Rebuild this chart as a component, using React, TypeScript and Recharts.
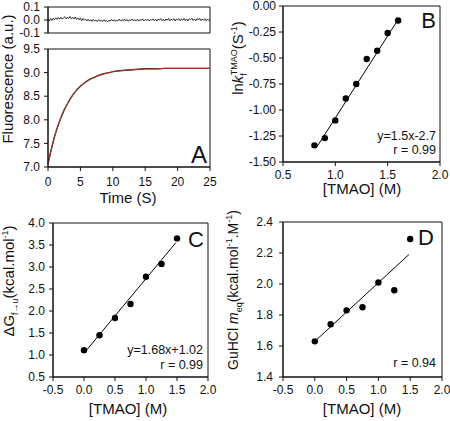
import { ComposedChart, LineChart, Line, Scatter, XAxis, YAxis, Label, ReferenceArea, Customized } from "recharts";

const W = 450;
const H = 421;
const font = "'Liberation Sans', Arial, sans-serif";
const ink = "#111";

// A: refolding trace, fit and residuals
const timeS = [0, 0.5, 1, 1.5, 2, 2.5, 3, 3.5, 4, 4.5, 5, 5.5, 6, 6.5, 7, 7.5, 8, 8.5, 9, 9.5, 10, 11, 12, 13, 14, 15, 16, 17, 18, 19, 20, 21, 22, 23, 24, 25];
const fluorescence = [7.07, 7.37, 7.64, 7.86, 8.05, 8.21, 8.34, 8.46, 8.56, 8.64, 8.71, 8.77, 8.82, 8.86, 8.89, 8.92, 8.95, 8.97, 8.99, 9.0, 9.02, 9.04, 9.05, 9.06, 9.07, 9.08, 9.08, 9.08, 9.09, 9.09, 9.09, 9.09, 9.09, 9.09, 9.09, 9.09];
const residuals = [
  0.006, -0.009, 0.011, -0.005, 0.014, 0.002, 0.017, 0.004, 0.019, 0.007,
  0.021, 0.006, 0.018, 0.025, 0.008, 0.022, 0.011, 0.027, 0.009, 0.02,
  0.007, 0.023, 0.004, 0.016, 0.001, 0.014, -0.005, 0.011, -0.002, 0.008,
  -0.007, 0.006, -0.009, 0.003, -0.011, 0.004, -0.008, 0.0, -0.012, 0.003,
  -0.009, -0.002, -0.013, 0.002, -0.01, -0.004, -0.014, -0.001, -0.009, 0.004,
  -0.008, 0.003, -0.011, 0.0, -0.007, 0.006, -0.009, 0.002, -0.006, 0.007,
  -0.007, 0.004, -0.01, 0.003, -0.004, 0.008, -0.008, 0.002, -0.006, 0.006,
  -0.009, 0.003, -0.003, 0.009, -0.007, 0.004, -0.004, 0.008, -0.008, 0.003,
  -0.002, 0.009, -0.006, 0.006, -0.009, 0.007, 0.0, 0.011, -0.005, 0.006,
  -0.008, 0.008, -0.002, 0.012, -0.006, 0.007, -0.003, 0.01, -0.007, 0.008,
  0.0, 0.011, -0.006, 0.007, -0.001, 0.013, -0.005, 0.008, -0.007, 0.01,
  0.001, 0.012, -0.004, 0.008, -0.006, 0.011, 0.0, 0.013, -0.005, 0.007,
  -0.001, 0.01, -0.006, 0.008, -0.003, 0.006,
];

// B: ln kf vs [TMAO]
const tmaoB = [0.8, 0.9, 1.0, 1.1, 1.2, 1.3, 1.4, 1.5, 1.6];
const lnKf = [-1.34, -1.27, -1.1, -0.89, -0.75, -0.51, -0.43, -0.26, -0.14];
const fitBx = [0.82, 1.6];
const fitBy = [-1.36, -0.13];

// C: dG vs [TMAO]
const tmaoC = [0, 0.25, 0.5, 0.75, 1.0, 1.25, 1.5];
const deltaG = [1.11, 1.45, 1.84, 2.16, 2.78, 3.07, 3.65];
const fitCx = [0, 1.48];
const fitCy = [1.04, 3.55];

// D: GuHCl m-value vs [TMAO]
const tmaoD = [0, 0.25, 0.5, 0.75, 1.0, 1.25, 1.5];
const mEq = [1.63, 1.74, 1.83, 1.85, 2.01, 1.96, 2.29];
const fitDx = [0, 1.48];
const fitDy = [1.63, 2.19];

const ticksTime = [0, 5, 10, 15, 20, 25];
const ticksFluor = [7.0, 7.5, 8.0, 8.5, 9.0, 9.5];
const ticksResid = [-0.1, 0.0, 0.1];
const ticksTmaoB = [0.5, 1.0, 1.5, 2.0];
const ticksLnKf = [-1.5, -1.25, -1.0, -0.75, -0.5, -0.25, 0];
const ticksTmaoCD = [-0.5, 0, 0.5, 1.0, 1.5, 2.0];
const ticksDG = [0.5, 1.0, 1.5, 2.0, 2.5, 3.0, 3.5, 4.0];
const ticksMeq = [1.4, 1.6, 1.8, 2.0, 2.2, 2.4];

type Box = { x0: number; y0: number; x1: number; y1: number };
const YW = 40;
const XH = 30;

const boxResid: Box = { x0: 48, y0: 7, x1: 210, y1: 33 };
const boxA: Box = { x0: 48, y0: 49, x1: 210, y1: 167 };
const boxB: Box = { x0: 283, y0: 6, x1: 440, y1: 162 };
const boxC: Box = { x0: 53, y0: 223, x1: 208, y1: 377 };
const boxD: Box = { x0: 283, y0: 222, x1: 442, y1: 377 };

function margin(b: Box, xh = XH) {
  return { top: b.y0, left: b.x0 - YW, right: W - b.x1, bottom: H - b.y1 - xh };
}

const tickStyle = { fontFamily: font, fontSize: 12, fill: ink };
const f1 = (v: number) => v.toFixed(1);
const f2 = (v: number) => v.toFixed(2);
const pts = (xs: number[], ys: number[]) => xs.map((x, i) => ({ x, y: ys[i] }));

function Dot(p: any) {
  return <circle cx={p.cx} cy={p.cy} r={3.2} fill="#000" />;
}

function VTitle({ cx, cy, size = 15, children }: { cx: number; cy: number; size?: number; children: any }) {
  return (
    <text x={cx} y={cy} transform={`rotate(-90 ${cx} ${cy})`} textAnchor="middle" fontFamily={font} fontSize={size} fill={ink}>
      {children}
    </text>
  );
}

function HTitle({ cx, y, children }: { cx: number; y: number; children: any }) {
  return (
    <text x={cx} y={y} textAnchor="middle" fontFamily={font} fontSize={15} fill={ink}>
      {children}
    </text>
  );
}

function Note({ x, y, size = 12.5, children }: { x: number; y: number; size?: number; children: any }) {
  return (
    <text x={x} y={y} textAnchor="end" fontFamily={font} fontSize={size} fill={ink}>
      {children}
    </text>
  );
}

const layer = { position: "absolute" as const, left: 0, top: 0 };
const axisProps = { stroke: ink, tick: tickStyle, tickSize: 4, interval: 0 as const };

export default function App() {
  const resid = residuals.map((r, i) => ({ i, r }));
  const trace = timeS.map((t, i) => ({ t, f: fluorescence[i] }));

  return (
    <div style={{ position: "absolute", left: 0, top: 0, width: W, height: H, background: "#fff" }}>
      {/* A, residuals */}
      <div style={layer}>
        <LineChart width={W} height={H} data={resid} margin={margin(boxResid, 0)}>
          <XAxis dataKey="i" type="category" scale="point" hide />
          <YAxis width={YW} type="number" domain={[-0.1, 0.1]} ticks={ticksResid} tickFormatter={f1} tickMargin={4} {...axisProps} />
          <ReferenceArea x1={0} x2={residuals.length - 1} y1={-0.1} y2={0.1} fill="none" stroke={ink} ifOverflow="visible" />
          <Line dataKey="r" stroke="#000" strokeWidth={0.8} dot={false} isAnimationActive={false} />
        </LineChart>
      </div>

      {/* A, trace */}
      <div style={layer}>
        <LineChart width={W} height={H} data={trace} margin={margin(boxA)}>
          <XAxis dataKey="t" type="number" domain={[0, 25]} ticks={ticksTime} tickMargin={6} {...axisProps}>
            <Label content={() => <HTitle cx={128} y={203}>Time (S)</HTitle>} />
          </XAxis>
          <YAxis width={YW} type="number" domain={[7, 9.5]} ticks={ticksFluor} tickFormatter={f1} tickMargin={4} {...axisProps}>
            <Label content={() => <VTitle cx={13} cy={79}>Fluorescence (a.u.)</VTitle>} />
          </YAxis>
          <ReferenceArea x1={0} x2={25} y1={7} y2={9.5} fill="none" stroke={ink} ifOverflow="visible" />
          <Line dataKey="f" stroke="#222" strokeWidth={1.4} dot={false} isAnimationActive={false} />
          <Line dataKey="f" stroke="#c0392b" strokeWidth={0.9} dot={false} isAnimationActive={false} />
          <Customized component={() => <Note x={207} y={163} size={24}>A</Note>} />
        </LineChart>
      </div>

      {/* B */}
      <div style={layer}>
        <ComposedChart width={W} height={H} margin={margin(boxB)}>
          <XAxis dataKey="x" type="number" domain={[0.5, 2]} ticks={ticksTmaoB} tickFormatter={f1} tickMargin={4} {...axisProps}>
            <Label content={() => <HTitle cx={362} y={194}>[TMAO] (M)</HTitle>} />
          </XAxis>
          <YAxis width={YW} dataKey="y" type="number" domain={[-1.5, 0]} ticks={ticksLnKf} tickFormatter={f2} tickMargin={3} {...axisProps}>
            <Label
              content={() => (
                <VTitle cx={243} cy={58}>
                  <tspan>ln</tspan>
                  <tspan fontStyle="italic">k</tspan>
                  <tspan fontSize={9} dy={4}>f</tspan>
                  <tspan fontSize={9} dy={-10} dx={-2}>TMAO</tspan>
                  <tspan dy={6}>(S</tspan>
                  <tspan fontSize={9} dy={-6}>-1</tspan>
                  <tspan dy={6}>)</tspan>
                </VTitle>
              )}
            />
          </YAxis>
          <ReferenceArea x1={0.5} x2={2} y1={-1.5} y2={0} fill="none" stroke={ink} ifOverflow="visible" />
          <Line data={pts(fitBx, fitBy)} dataKey="y" type="linear" stroke="#000" strokeWidth={1} dot={false} isAnimationActive={false} />
          <Scatter data={pts(tmaoB, lnKf)} dataKey="y" shape={Dot} isAnimationActive={false} />
          <Customized
            component={() => (
              <g>
                <Note x={436} y={28} size={22}>B</Note>
                <Note x={436} y={140}>y=1.5x-2.7</Note>
                <Note x={436} y={154}>r = 0.99</Note>
              </g>
            )}
          />
        </ComposedChart>
      </div>

      {/* C */}
      <div style={layer}>
        <ComposedChart width={W} height={H} margin={margin(boxC)}>
          <XAxis dataKey="x" type="number" domain={[-0.5, 2]} ticks={ticksTmaoCD} tickFormatter={f1} tickMargin={4} {...axisProps}>
            <Label content={() => <HTitle cx={128} y={414}>[TMAO] (M)</HTitle>} />
          </XAxis>
          <YAxis width={YW} dataKey="y" type="number" domain={[0.5, 4]} ticks={ticksDG} tickFormatter={f1} tickMargin={4} {...axisProps}>
            <Label
              content={() => (
                <VTitle cx={14} cy={281}>
                  <tspan>ΔG</tspan>
                  <tspan fontSize={9} dy={4}>f→u</tspan>
                  <tspan dy={-4}>(kcal.mol</tspan>
                  <tspan fontSize={9} dy={-6}>-1</tspan>
                  <tspan dy={6}>)</tspan>
                </VTitle>
              )}
            />
          </YAxis>
          <ReferenceArea x1={-0.5} x2={2} y1={0.5} y2={4} fill="none" stroke={ink} ifOverflow="visible" />
          <Line data={pts(fitCx, fitCy)} dataKey="y" type="linear" stroke="#000" strokeWidth={1} dot={false} isAnimationActive={false} />
          <Scatter data={pts(tmaoC, deltaG)} dataKey="y" shape={Dot} isAnimationActive={false} />
          <Customized
            component={() => (
              <g>
                <Note x={204} y={247} size={22}>C</Note>
                <Note x={203} y={354}>y=1.68x+1.02</Note>
                <Note x={203} y={369}>r = 0.99</Note>
              </g>
            )}
          />
        </ComposedChart>
      </div>

      {/* D */}
      <div style={layer}>
        <ComposedChart width={W} height={H} margin={margin(boxD)}>
          <XAxis dataKey="x" type="number" domain={[-0.5, 2]} ticks={ticksTmaoCD} tickFormatter={f1} tickMargin={4} {...axisProps}>
            <Label content={() => <HTitle cx={362} y={414}>[TMAO] (M)</HTitle>} />
          </XAxis>
          <YAxis width={YW} dataKey="y" type="number" domain={[1.4, 2.4]} ticks={ticksMeq} tickFormatter={f1} tickMargin={6} {...axisProps}>
            <Label
              content={() => (
                <VTitle cx={238} cy={290} size={14}>
                  <tspan>GuHCl </tspan>
                  <tspan fontStyle="italic">m</tspan>
                  <tspan fontSize={9} dy={4}>eq</tspan>
                  <tspan dy={-4}>(kcal.mol</tspan>
                  <tspan fontSize={9} dy={-6}>-1</tspan>
                  <tspan dy={6}>.M</tspan>
                  <tspan fontSize={9} dy={-6}>-1</tspan>
                  <tspan dy={6}>)</tspan>
                </VTitle>
              )}
            />
          </YAxis>
          <ReferenceArea x1={-0.5} x2={2} y1={1.4} y2={2.4} fill="none" stroke={ink} ifOverflow="visible" />
          <Line data={pts(fitDx, fitDy)} dataKey="y" type="linear" stroke="#000" strokeWidth={1} dot={false} isAnimationActive={false} />
          <Scatter data={pts(tmaoD, mEq)} dataKey="y" shape={Dot} isAnimationActive={false} />
          <Customized
            component={() => (
              <g>
                <Note x={434} y={245} size={22}>D</Note>
                <Note x={436} y={367}>r = 0.94</Note>
              </g>
            )}
          />
        </ComposedChart>
      </div>
    </div>
  );
}
